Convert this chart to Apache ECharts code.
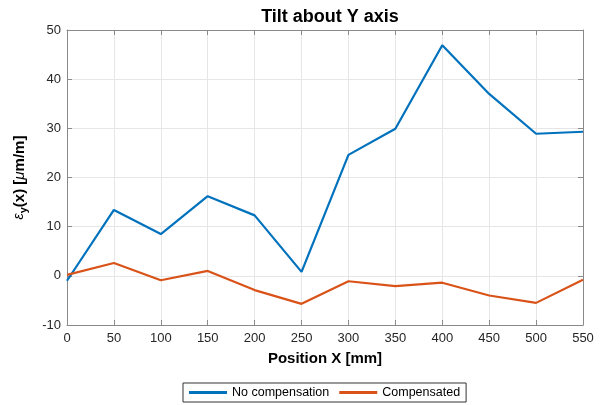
<!DOCTYPE html>
<html><head><meta charset="utf-8">
<script src="https://cdn.jsdelivr.net/npm/echarts@6/dist/echarts.min.js"></script>
<style>html,body{margin:0;padding:0;background:#fff}#c{width:604px;height:405px}</style>
</head><body><div id="c"></div>
<script>
const positions = [0, 50, 100, 150, 200, 250, 300, 350, 400, 450, 500, 550];
const noCompensation = [-1.0, 13.4, 8.5, 16.2, 12.3, 0.8, 24.6, 29.9, 46.9, 37.0, 28.9, 29.3];
const compensated = [0.2, 2.6, -0.9, 1.0, -2.9, -5.7, -1.1, -2.1, -1.4, -4.0, -5.5, -0.8];
const xTicks = [0, 550, 50];
const yTicks = [-10, 50, 10];

const FONT = '"Liberation Sans", Arial, Helvetica, sans-serif';
const axisCol = '#8a8a8a';
const chart = echarts.init(document.getElementById('c'), null, {renderer: 'canvas'});
const mk = (a, b) => a.map((v, i) => [v, b[i]]);
const baseAxis = {
  axisLine: {show: true, onZero: false, lineStyle: {color: axisCol, width: 1}},
  axisTick: {show: true, inside: true, length: 5, lineStyle: {color: axisCol}},
  splitLine: {show: true, lineStyle: {color: '#e6e6e6', width: 1}},
  axisLabel: {color: '#262626', fontFamily: FONT, fontSize: 13}
};
chart.setOption({
  animation: false,
  backgroundColor: '#fff',
  title: {
    text: 'Tilt about Y axis', left: 325, top: 3, textAlign: 'center',
    textStyle: {fontFamily: FONT, fontSize: 18, fontWeight: 'bold', color: '#000'}
  },
  grid: {left: 67, right: 21, top: 30, bottom: 80},
  legend: {
    bottom: 3, left: 183,
    data: ['No compensation', 'Compensated'],
    icon: 'rect', itemWidth: 38, itemHeight: 3, itemGap: 10,
    borderColor: '#333333', borderWidth: 1, borderRadius: 0,
    padding: [3, 6, 3, 6], backgroundColor: '#fff',
    textStyle: {fontFamily: FONT, fontSize: 12.5, color: '#000'}
  },
  xAxis: [
    Object.assign({}, baseAxis, {
      type: 'value', min: xTicks[0], max: xTicks[1], interval: xTicks[2],
      name: 'Position X [mm]', nameLocation: 'middle', nameGap: 26,
      nameTextStyle: {fontFamily: FONT, fontSize: 15, fontWeight: 'bold', color: '#000'},
      axisLabel: Object.assign({}, baseAxis.axisLabel, {margin: 7})
    }),
    Object.assign({}, baseAxis, {
      type: 'value', position: 'top', min: xTicks[0], max: xTicks[1], interval: xTicks[2],
      axisLabel: {show: false}, splitLine: {show: false}
    })
  ],
  yAxis: [
    Object.assign({}, baseAxis, {
      type: 'value', min: yTicks[0], max: yTicks[1], interval: yTicks[2],
      name: '{e|ε}{s|y}{b|(x) [}{m|μ}{b|m/m]}', nameLocation: 'middle', nameGap: 38,
      nameRotate: 90,
      nameTextStyle: {
        fontFamily: FONT, color: '#000',
        rich: {
          e: {fontFamily: FONT, fontSize: 14, fontStyle: 'italic', color: '#000'},
          s: {fontFamily: FONT, fontSize: 11, fontWeight: 'bold', color: '#000', padding: [8, 0, 0, 0]},
          b: {fontFamily: FONT, fontSize: 15, fontWeight: 'bold', color: '#000'},
          m: {fontFamily: FONT, fontSize: 15, fontStyle: 'italic', color: '#000'}
        }
      },
      axisLabel: Object.assign({}, baseAxis.axisLabel, {margin: 6})
    }),
    Object.assign({}, baseAxis, {
      type: 'value', position: 'right', min: yTicks[0], max: yTicks[1], interval: yTicks[2],
      axisLabel: {show: false}, splitLine: {show: false}
    })
  ],
  series: [
    {name: 'No compensation', type: 'line', data: mk(positions, noCompensation),
     showSymbol: false, symbol: 'none', lineStyle: {color: '#0072BD', width: 2.2},
     itemStyle: {color: '#0072BD'}, z: 3},
    {name: 'Compensated', type: 'line', data: mk(positions, compensated),
     showSymbol: false, symbol: 'none', lineStyle: {color: '#D95319', width: 2.2},
     itemStyle: {color: '#D95319'}, z: 4}
  ]
});
</script></body></html>
